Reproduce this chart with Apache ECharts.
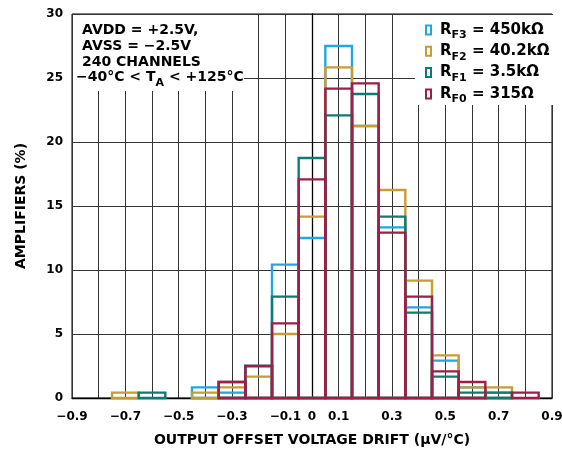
<!DOCTYPE html>
<html>
<head>
<meta charset="utf-8">
<script src="https://cdn.jsdelivr.net/npm/echarts@6/dist/echarts.min.js"></script>
<style>
  html, body { margin: 0; padding: 0; background: #fff; }
  #chart { width: 562px; height: 449px; }
</style>
</head>
<body>
<div id="chart"></div>
<script>
// Histogram bin centres (µV/°C); each bin is 0.1 wide
const binCenters = [-0.7, -0.6, -0.5, -0.4, -0.3, -0.2, -0.1, 0, 0.1, 0.2, 0.3, 0.4, 0.5, 0.6, 0.7, 0.8];

// Share of the 240 channels in each bin (%)
const rf3Values = [0, 0, 0, 0.83, 0.42, 2.5, 10.42, 12.5, 27.5, 21.25, 13.33, 7.08, 2.92, 0.83, 0.42, 0];
const rf2Values = [0.42, 0, 0, 0.42, 0.83, 1.67, 5.0, 14.17, 25.83, 21.25, 16.25, 9.17, 3.33, 0.83, 0.83, 0];
const rf1Values = [0, 0.42, 0, 0, 1.25, 2.5, 7.92, 18.75, 22.08, 23.75, 14.17, 6.67, 1.67, 0.42, 0.42, 0];
const rf0Values = [0, 0, 0, 0, 1.25, 2.5, 5.83, 17.08, 24.17, 24.58, 12.92, 7.92, 2.08, 1.25, 0, 0.42];

const seriesNames = ['RF3 = 450kΩ', 'RF2 = 40.2kΩ', 'RF1 = 3.5kΩ', 'RF0 = 315Ω'];
const seriesSubs = ['F3', 'F2', 'F1', 'F0'];
const seriesRes = ['450kΩ', '40.2kΩ', '3.5kΩ', '315Ω'];
const seriesColors = ['#20A7DF', '#C79C33', '#0E7B72', '#A01D45'];
const seriesValues = [rf3Values, rf2Values, rf1Values, rf0Values];

// Labelled x ticks (every other grid line, plus zero)
const xTickValues = [-0.9, -0.7, -0.5, -0.3, -0.1, 0, 0.1, 0.3, 0.5, 0.7, 0.9];
const xTickLabels = ['\u22120.9', '\u22120.7', '\u22120.5', '\u22120.3', '\u22120.1', '0', '0.1', '0.3', '0.5', '0.7', '0.9'];

// Test-condition note
const noteLines = ['AVDD = +2.5V,', 'AVSS = \u22122.5V', '240 CHANNELS'];
const noteLast = ['\u221240°C < T', 'A', ' < +125°C'];

const FONT = '"DejaVu Sans", "Liberation Sans", Arial, sans-serif';
const BIN_HALF = 0.05;

function binRenderer(color) {
  return function (params, api) {
    const c = api.value(0);
    const v = api.value(1);
    if (!(v > 0)) return null;
    const tl = api.coord([c - BIN_HALF, v]);
    const br = api.coord([c + BIN_HALF, 0]);
    return {
      type: 'rect',
      shape: { x: tl[0], y: tl[1], width: br[0] - tl[0], height: br[1] - tl[1] },
      style: { fill: 'none', stroke: color, lineWidth: 2.4 }
    };
  };
}

const series = seriesNames.map((name, i) => ({
  name: name,
  type: 'custom',
  color: seriesColors[i],
  z: 2 + i,
  renderItem: binRenderer(seriesColors[i]),
  encode: { x: 0, y: 1 },
  data: binCenters.map((c, j) => [c, seriesValues[i][j]])
}));

function xLabel(v) {
  const k = xTickValues.findIndex(t => Math.abs(t - v) < 1e-6);
  return k >= 0 ? xTickLabels[k] : '';
}

const noteRich = {
  m: { fontFamily: FONT, fontWeight: 'bold', fontSize: 14, lineHeight: 15.8, fill: '#000' },
  s: { fontFamily: FONT, fontWeight: 'bold', fontSize: 11, lineHeight: 15.8, padding: [11, 0, 0, 0], fill: '#000' }
};

const chart = echarts.init(document.getElementById('chart'), null, { renderer: 'canvas' });
chart.setOption({
  animation: false,
  backgroundColor: '#fff',
  textStyle: { fontFamily: FONT },
  grid: {
    left: 72, right: 10, top: 14, bottom: 51,
    outerBoundsMode: 'none',
    show: true, borderColor: '#000', borderWidth: 1, backgroundColor: 'transparent'
  },
  xAxis: {
    type: 'value',
    min: -0.9, max: 0.9, interval: 0.1,
    name: 'OUTPUT OFFSET VOLTAGE DRIFT (\u00B5V/°C)',
    nameLocation: 'middle',
    nameGap: 35,
    nameTextStyle: { fontFamily: FONT, fontWeight: 'bold', fontSize: 14, color: '#000' },
    axisLine: { show: true, lineStyle: { color: '#000', width: 1.3 } },
    axisTick: { show: false },
    axisLabel: {
      formatter: xLabel, margin: 13, showMinLabel: true, showMaxLabel: true,
      fontFamily: FONT, fontWeight: 'bold', fontSize: 12, color: '#000'
    },
    splitLine: { show: true, lineStyle: { color: '#333', width: 1 } }
  },
  yAxis: {
    type: 'value',
    min: 0, max: 30, interval: 5,
    name: 'AMPLIFIERS (%)',
    nameLocation: 'middle',
    nameGap: 44,
    nameTextStyle: { fontFamily: FONT, fontWeight: 'bold', fontSize: 14, color: '#000' },
    axisLine: { show: true, lineStyle: { color: '#000', width: 1.3 } },
    axisTick: { show: false },
    axisLabel: { margin: 9, fontFamily: FONT, fontWeight: 'bold', fontSize: 12, color: '#000' },
    splitLine: { show: true, lineStyle: { color: '#333', width: 1 } }
  },
  legend: {
    orient: 'vertical',
    left: 415, top: 15,
    padding: [4, 5, 0, 10],
    backgroundColor: '#fff',
    itemWidth: 5, itemHeight: 9,
    itemGap: -0.7,
    selectedMode: false,
    data: seriesNames.map((n, i) => ({
      name: n, icon: 'rect',
      itemStyle: { color: '#fff', borderColor: seriesColors[i], borderWidth: 2 }
    })),
    formatter: function (name) {
      const i = seriesNames.indexOf(name);
      return '{m|R}{s|' + seriesSubs[i] + '}{m| = ' + seriesRes[i] + '}';
    },
    textStyle: {
      padding: [0, 0, 0, 4],
      rich: {
        m: { fontFamily: FONT, fontWeight: 'bold', fontSize: 15, lineHeight: 18, color: '#000' },
        s: { fontFamily: FONT, fontWeight: 'bold', fontSize: 11, lineHeight: 18, padding: [11, 0, 0, 0], color: '#000' }
      }
    }
  },
  graphic: [
    {
      type: 'rect', left: 73, top: 15, z: 1,
      shape: { width: 171, height: 76 },
      style: { fill: '#fff' }
    },
    {
      type: 'text', left: 82, top: 23.5, z: 5,
      style: {
        text: noteLines.map(l => '{m|' + l + '}').join('\n'),
        fill: '#000',
        rich: noteRich
      }
    },
    {
      type: 'text', left: 76, top: 66.4, z: 5,
      style: {
        text: '{m|' + noteLast[0] + '}{s|' + noteLast[1] + '}{m|' + noteLast[2] + '}',
        fill: '#000',
        rich: noteRich
      }
    }
  ],
  series: series
});
</script>
</body>
</html>
